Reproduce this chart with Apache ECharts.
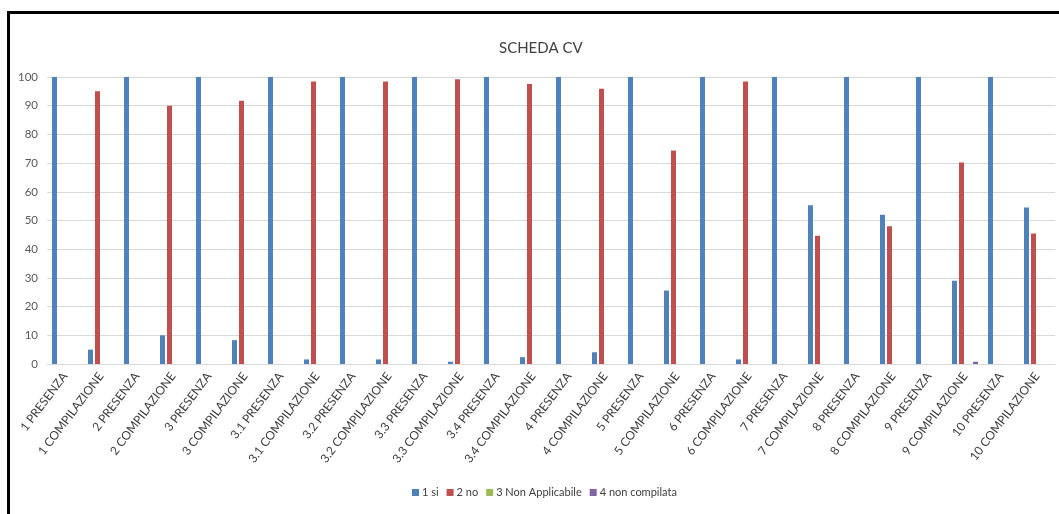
<!DOCTYPE html>
<html>
<head>
<meta charset="utf-8">
<script src="https://cdn.jsdelivr.net/npm/echarts@6/dist/echarts.min.js"></script>
<style>
  html, body { margin: 0; padding: 0; background: #ffffff; }
  #frame {
    position: absolute; left: 7px; top: 11px; width: 1052px; height: 503px;
    border-top: 3px solid #000; border-left: 3px solid #000; box-sizing: border-box;
  }
  #chart { position: absolute; left: 0; top: 0; width: 1059px; height: 514px; }
</style>
</head>
<body>
<div id="frame"></div>
<div id="chart"></div>
<script>
// Questionnaire items: presence and completion of each CV section
const categories = [
  '1 PRESENZA', '1 COMPILAZIONE', '2 PRESENZA', '2 COMPILAZIONE',
  '3 PRESENZA', '3 COMPILAZIONE', '3.1 PRESENZA', '3.1 COMPILAZIONE',
  '3.2 PRESENZA', '3.2 COMPILAZIONE', '3.3 PRESENZA', '3.3 COMPILAZIONE',
  '3.4 PRESENZA', '3.4 COMPILAZIONE', '4 PRESENZA', '4 COMPILAZIONE',
  '5 PRESENZA', '5 COMPILAZIONE', '6 PRESENZA', '6 COMPILAZIONE',
  '7 PRESENZA', '7 COMPILAZIONE', '8 PRESENZA', '8 COMPILAZIONE',
  '9 PRESENZA', '9 COMPILAZIONE', '10 PRESENZA', '10 COMPILAZIONE'
];

// Percentages per answer
const si = [
  100, 5, 100, 10, 100, 8.3, 100, 1.6, 100, 1.6, 100, 0.8, 100, 2.4,
  100, 4.1, 100, 25.6, 100, 1.6, 100, 55.3, 100, 52, 100, 29, 100, 54.5
];
const no = [
  0, 95, 0, 90, 0, 91.7, 0, 98.4, 0, 98.4, 0, 99.2, 0, 97.6,
  0, 95.9, 0, 74.4, 0, 98.4, 0, 44.7, 0, 48, 0, 70.2, 0, 45.5
];
const nonApplicabile = [
  0, 0, 0, 0, 0, 0, 0, 0, 0, 0, 0, 0, 0, 0,
  0, 0, 0, 0, 0, 0, 0, 0, 0, 0, 0, 0, 0, 0
];
const nonCompilata = [
  0, 0, 0, 0, 0, 0, 0, 0, 0, 0, 0, 0, 0, 0,
  0, 0, 0, 0, 0, 0, 0, 0, 0, 0, 0, 0.8, 0, 0
];

const seriesNames = ['1 si', '2 no', '3 Non Applicabile', '4 non compilata'];
const seriesData = [si, no, nonApplicabile, nonCompilata];
const colors = ['#4f81bd', '#c0504d', '#9bbb59', '#8064a2'];

const FONT = 'Lato, "Open Sans", sans-serif';

const chart = echarts.init(document.getElementById('chart'), null, { renderer: 'canvas' });
chart.setOption({
  animation: false,
  color: colors,
  textStyle: { fontFamily: FONT },
  title: {
    text: 'SCHEDA CV',
    left: 494,
    top: 36,
    textStyle: { fontFamily: FONT, fontSize: 15, fontWeight: 'normal', color: '#404040' }
  },
  legend: {
    data: seriesNames,
    bottom: 11,
    left: 407,
    icon: 'rect',
    itemWidth: 7,
    itemHeight: 7,
    itemGap: 8,
    textStyle: { fontFamily: FONT, fontSize: 11, color: '#404040', padding: [0, 0, 0, -2] }
  },
  grid: { left: 47, right: 4, top: 77, bottom: 150, containLabel: false },
  xAxis: {
    type: 'category',
    data: categories,
    axisLine: { lineStyle: { color: '#d9d9d9' } },
    axisTick: { show: false },
    axisLabel: {
      interval: 0,
      rotate: 53,
      fontFamily: FONT,
      fontSize: 12,
      color: '#404040',
      margin: 10
    }
  },
  yAxis: {
    type: 'value',
    min: 0,
    max: 100,
    interval: 10,
    axisLine: { show: false },
    axisTick: { show: false },
    splitLine: { lineStyle: { color: '#d9d9d9' } },
    axisLabel: { fontFamily: FONT, fontSize: 11.5, color: '#595959', margin: 9 }
  },
  series: seriesNames.map((name, i) => ({
    name: name,
    type: 'bar',
    data: seriesData[i],
    barWidth: 5,
    barGap: '40%',
    itemStyle: { color: colors[i] }
  }))
});
</script>
</body>
</html>
